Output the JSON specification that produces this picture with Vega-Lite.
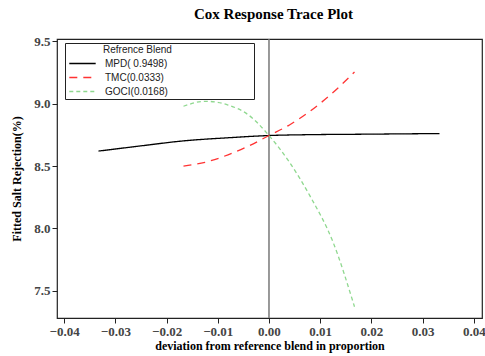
{
  "$schema": "https://vega.github.io/schema/vega-lite/v6.json",
  "autosize": "none",
  "width": 425,
  "height": 279,
  "padding": {"left": 57, "top": 39, "right": 3, "bottom": 38},
  "background": "white",
  "title": {
    "text": "Cox Response Trace Plot",
    "font": "Liberation Serif",
    "fontSize": 15,
    "fontWeight": "bold",
    "color": "#000",
    "anchor": "middle",
    "dx": 4,
    "offset": 13
  },
  "config": {
    "view": {"stroke": "#222", "strokeWidth": 1.2},
    "axis": {
      "grid": false,
      "domain": false,
      "tickColor": "#222",
      "tickSize": 5,
      "labelFont": "Liberation Serif",
      "labelFontWeight": "bold",
      "labelFontSize": 13,
      "labelColor": "#444",
      "titleFont": "Liberation Serif",
      "titleFontWeight": "bold",
      "titleFontSize": 12,
      "titleColor": "#000"
    }
  },
  "data": {
    "values": [
      {"blend": "MPD( 0.9498)", "x": -0.0333, "y": 8.62},
      {"blend": "MPD( 0.9498)", "x": -0.025, "y": 8.662},
      {"blend": "MPD( 0.9498)", "x": -0.0167, "y": 8.702},
      {"blend": "MPD( 0.9498)", "x": -0.008, "y": 8.727},
      {"blend": "MPD( 0.9498)", "x": 0.0, "y": 8.745},
      {"blend": "MPD( 0.9498)", "x": 0.008, "y": 8.752},
      {"blend": "MPD( 0.9498)", "x": 0.0167, "y": 8.755},
      {"blend": "MPD( 0.9498)", "x": 0.025, "y": 8.758},
      {"blend": "MPD( 0.9498)", "x": 0.0333, "y": 8.761},
      {"blend": "TMC(0.0333)", "x": -0.0167, "y": 8.5},
      {"blend": "TMC(0.0333)", "x": -0.0125, "y": 8.53},
      {"blend": "TMC(0.0333)", "x": -0.008, "y": 8.59},
      {"blend": "TMC(0.0333)", "x": -0.004, "y": 8.66},
      {"blend": "TMC(0.0333)", "x": 0.0, "y": 8.745},
      {"blend": "TMC(0.0333)", "x": 0.004, "y": 8.83},
      {"blend": "TMC(0.0333)", "x": 0.008, "y": 8.94},
      {"blend": "TMC(0.0333)", "x": 0.0125, "y": 9.09},
      {"blend": "TMC(0.0333)", "x": 0.0167, "y": 9.255},
      {"blend": "GOCI(0.0168)", "x": -0.0167, "y": 8.98},
      {"blend": "GOCI(0.0168)", "x": -0.0125, "y": 9.02},
      {"blend": "GOCI(0.0168)", "x": -0.008, "y": 8.99},
      {"blend": "GOCI(0.0168)", "x": -0.004, "y": 8.91},
      {"blend": "GOCI(0.0168)", "x": 0.0, "y": 8.745},
      {"blend": "GOCI(0.0168)", "x": 0.004, "y": 8.53},
      {"blend": "GOCI(0.0168)", "x": 0.008, "y": 8.26},
      {"blend": "GOCI(0.0168)", "x": 0.0125, "y": 7.89},
      {"blend": "GOCI(0.0168)", "x": 0.0167, "y": 7.37}
    ]
  },
  "layer": [
    {
      "data": {"values": [{"x0": 0}]},
      "mark": {"type": "rule", "color": "#777", "strokeWidth": 1.5},
      "encoding": {"x": {"field": "x0", "type": "quantitative"}}
    },
    {
      "mark": {"type": "line", "interpolate": "monotone", "strokeWidth": 1.3},
      "encoding": {
        "x": {
          "field": "x",
          "type": "quantitative",
          "scale": {"domain": [-0.0414, 0.0416], "nice": false, "zero": false},
          "axis": {"values": [-0.04, -0.03, -0.02, -0.01, 0, 0.01, 0.02, 0.03, 0.04], "format": ".2f", "title": "deviation from reference blend in proportion", "titlePadding": 2}
        },
        "y": {
          "field": "y",
          "type": "quantitative",
          "scale": {"domain": [7.28, 9.52], "nice": false, "zero": false},
          "axis": {"values": [7.5, 8.0, 8.5, 9.0, 9.5], "format": ".1f", "title": "Fitted Salt Rejection(%)", "titlePadding": 10}
        },
        "color": {
          "field": "blend",
          "type": "nominal",
          "scale": {"domain": ["MPD( 0.9498)", "TMC(0.0333)", "GOCI(0.0168)"], "range": ["#000000", "#ff3333", "#8fd88f"]},
          "legend": {
            "title": "Refrence Blend",
            "orient": "none",
            "legendX": 8,
            "legendY": 4,
            "fillColor": "white",
            "strokeColor": "#222",
            "padding": 2,
            "titleFont": "Liberation Sans",
            "titleFontWeight": "normal",
            "titleFontSize": 10,
            "titleColor": "#222",
            "titleAnchor": "start",
            "titlePadding": 2,
            "labelFont": "Liberation Sans",
            "labelFontSize": 10,
            "labelColor": "#222",
            "labelLimit": 400,
            "symbolType": "M-2.4,0H2.4",
            "symbolSize": 121,
            "symbolOffset": 9,
            "symbolStrokeWidth": 1.5,
            "labelOffset": 16,
            "rowPadding": 2,
            "labelExpr": "datum.label + '\u2800\u2800\u2800\u2800\u2800\u2800\u2800\u2800\u2800\u2800\u2800\u2800'",
            "encode": {"title": {"update": {"dx": {"value": 36}}}}
          }
        },
        "strokeDash": {
          "field": "blend",
          "type": "nominal",
          "scale": {"domain": ["MPD( 0.9498)", "TMC(0.0333)", "GOCI(0.0168)"], "range": [[1, 0], [8, 6], [4, 3]]},
          "legend": null
        }
      }
    }
  ]
}
